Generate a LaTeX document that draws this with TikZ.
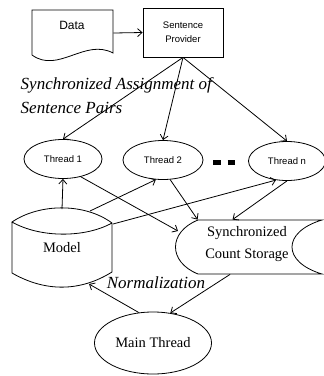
\documentclass[tikz,border=0pt]{standalone}
\usepackage{fontspec}
\setmainfont{Liberation Serif}
\setsansfont{Liberation Sans}
\usetikzlibrary{positioning,calc,shapes,arrows.meta}
\tikzset{
    flowchart/.style={
        x=1pt, y=-1pt,
        line width=0.8pt,
        % Stile per i thread (ellisse)
        thread/.style={draw, ellipse, inner sep=0pt,
                       minimum width=78pt, minimum height=39pt,
                       font=\sffamily\fontsize{9.5}{11}\selectfont},
        % Stile per le scatole con testo sans
        provbox/.style={draw, rectangle, align=center,
                        minimum width=80pt, minimum height=49pt,
                        font=\sffamily\fontsize{9.5}{14}\selectfont},
        % Stile per le aree delle forme disegnate a mano
        area/.style={rectangle, inner sep=0pt},
        % Stile per le etichette in corsivo
        note/.style={font=\itshape\fontsize{17}{24}\selectfont, align=left},
        serif/.style={font=\fontsize{14.5}{22}\selectfont, align=center},
        flow/.style={-{Straight Barb[length=4.5pt,width=8pt]}}
    }
}
\begin{document}
\begin{tikzpicture}[flowchart]
    \useasboundingbox (0,0) rectangle (324,376);
    % Data e Sentence Provider
    \node[area, minimum width=81pt, minimum height=46pt] (data) at (72.5,33) {};
    \node[font=\sffamily\fontsize{12}{14}\selectfont] (datatext) at (72,25) {Data};
    \draw (32,55) -- (32,10) -- (113,10) -- (113,53)
          .. controls (85,38) and (58,74) .. cycle;
    \node[provbox] (prov) at (183,32.5) {Sentence\\Provider};
    \draw[flow] (data.east) -- (prov.west);
    \node[note, anchor=west] (assign) at (17,96) {Synchronized Assignment of\\Sentence Pairs};
    % Thread
    \node[thread] (t1) at (63,159) {Thread 1};
    \node[thread, minimum width=80pt] (t2) at (163,160) {Thread 2};
    \node[thread, minimum width=77pt] (tn) at (287,161) {Thread n};
    \node (dots) at (224,162) {\rule{7pt}{5pt}\hspace{7pt}\rule{7pt}{5pt}};
    \draw[flow] (prov.south) -- (t1.north);
    \draw[flow] (prov.south) -- (t2.north);
    \draw[flow] (prov.south) -- (tn.north);
    % Model
    \node[area, serif, minimum width=100pt, minimum height=77pt] (model) at (62,248) {Model};
    \draw (12,222) -- (12,273) .. controls (45,292) and (80,292) .. (112,272) -- (112,223)
          .. controls (85,203) and (40,203) .. (12,222)
          .. controls (40,238) and (85,238) .. (112,223);
    \coordinate (modeltop) at (90,211);
    \coordinate (modelside) at (113,224);
    \coordinate (modelbot) at (89,284);
    % Synchronized Count Storage
    \node[area, minimum width=124pt, minimum height=54pt] (store) at (260,247) {};
    \node[serif] (storetext) at (247,244) {Synchronized\\Count Storage};
    \draw (198,220) -- (322,220) .. controls (282,232) and (282,262) .. (322,274)
          -- (198,274) .. controls (168,262) and (168,232) .. cycle;
    \coordinate (storeleft) at (178,231);
    \draw[flow] (model.north) -- (t1.south);
    \draw[flow] (modeltop) -- (t2.250);
    \draw[flow] (modelside) -- (tn.240);
    \draw[flow] (t1.315) -- (storeleft);
    \draw[flow] (t2.290) -- (store.north west);
    \draw[flow] (tn.south) -- ($(store.north west)!0.28!(store.north east)$);
    % Main Thread
    \node[thread, serif, minimum width=117pt, minimum height=62pt] (main) at (153,343) {Main Thread};
    \node[note] (norm) at (156,283) {Normalization};
    \draw[flow] ($(store.south west)!0.26!(store.south east)$) -- (main.60);
    \draw[flow] (main.115) -- (modelbot);
\end{tikzpicture}
\end{document}
